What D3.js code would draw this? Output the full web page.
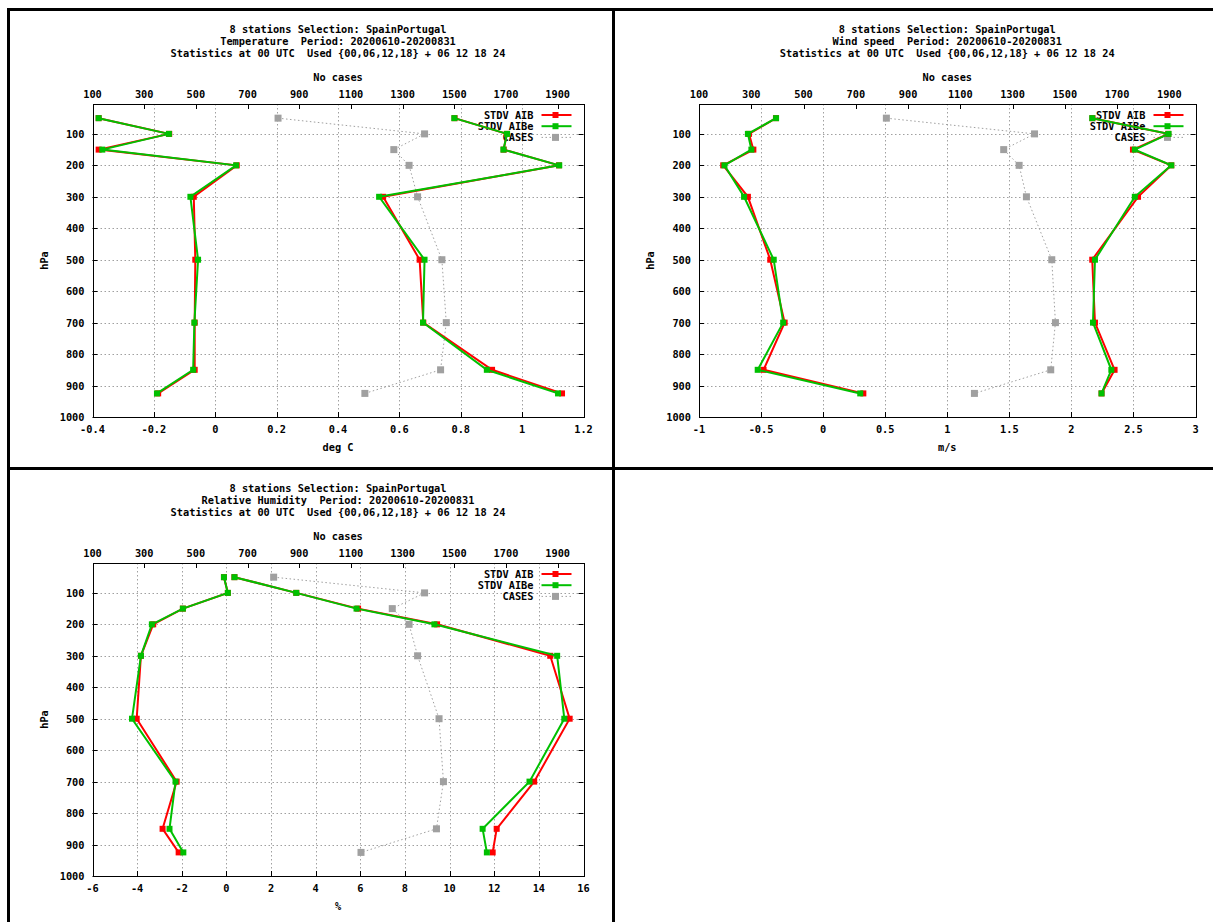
<!DOCTYPE html>
<html>
<head>
<meta charset="utf-8">
<script src="https://cdn.jsdelivr.net/npm/d3@7"></script>
<style>
  body { margin: 0; background: #fff; }
  svg text { font-family: 'DejaVu Sans Mono', monospace; font-weight: bold; font-size: 10.3px; fill: #000; }
</style>
</head>
<body>
<svg id="chart" width="1213" height="922"></svg>
<script>
// pressure levels (hPa)
const levels = [50, 100, 150, 200, 300, 500, 700, 850, 925];
const pressureTicks = [100, 200, 300, 400, 500, 600, 700, 800, 900, 1000];
const casesTicks = [100, 300, 500, 700, 900, 1100, 1300, 1500, 1700, 1900];

// Temperature
const tempTicks = [-0.4, -0.2, 0, 0.2, 0.4, 0.6, 0.8, 1, 1.2];
const tempBiasAIB = [-0.38, -0.15, -0.38, 0.07, -0.07, -0.065, -0.067, -0.067, -0.186];
const tempBiasAIBe = [-0.38, -0.151, -0.368, 0.068, -0.081, -0.056, -0.068, -0.072, -0.19];
const tempStdvAIB = [0.78, 0.95, 0.94, 1.12, 0.547, 0.666, 0.678, 0.902, 1.13];
const tempStdvAIBe = [0.779, 0.951, 0.939, 1.121, 0.534, 0.682, 0.677, 0.885, 1.117];
const tempCases = [818, 1385, 1266, 1325, 1358, 1452, 1469, 1447, 1154];

// Wind speed
const windTicks = [-1, -0.5, 0, 0.5, 1, 1.5, 2, 2.5, 3];
const windBiasAIB = [-0.38, -0.597, -0.562, -0.805, -0.606, -0.426, -0.31, -0.48, 0.324];
const windBiasAIBe = [-0.379, -0.606, -0.578, -0.795, -0.637, -0.398, -0.322, -0.527, 0.299];
const windStdvAIB = [2.17, 2.78, 2.496, 2.805, 2.537, 2.168, 2.19, 2.348, 2.243];
const windStdvAIBe = [2.168, 2.783, 2.511, 2.805, 2.511, 2.19, 2.174, 2.322, 2.243];
const windCases = [817, 1384, 1266, 1325, 1353, 1450, 1464, 1446, 1154];

// Relative humidity
const rhTicks = [-6, -4, -2, 0, 2, 4, 6, 8, 10, 12, 14, 16];
const rhBiasAIB = [-0.11, 0.065, -1.95, -3.28, -3.83, -4.02, -2.23, -2.86, -2.14];
const rhBiasAIBe = [-0.11, 0.065, -1.95, -3.34, -3.83, -4.23, -2.28, -2.55, -1.93];
const rhStdvAIB = [0.36, 3.13, 5.9, 9.44, 14.51, 15.38, 13.79, 12.11, 11.93];
const rhStdvAIBe = [0.36, 3.13, 5.83, 9.32, 14.82, 15.14, 13.58, 11.48, 11.67];
const rhCases = [801, 1385, 1260, 1325, 1358, 1441, 1458, 1431, 1139];

const titleLine1 = '8 stations Selection: SpainPortugal';
const titleLine3 = 'Statistics at 00 UTC  Used {00,06,12,18} + 06 12 18 24';
const period = 'Period: 20200610-20200831';

const RED = '#ff0000';
const GREEN = '#00c000';
const GRAY = '#a0a0a0';

const svg = d3.select('#chart');

// frame
const frame = svg.append('g').attr('fill', '#000');
frame.append('rect').attr('x', 7).attr('y', 8).attr('width', 1206).attr('height', 3);
frame.append('rect').attr('x', 7).attr('y', 8).attr('width', 3).attr('height', 914);
frame.append('rect').attr('x', 612).attr('y', 8).attr('width', 3).attr('height', 914);
frame.append('rect').attr('x', 7).attr('y', 467).attr('width', 1206).attr('height', 3);

function drawPanel(p) {
  const g = svg.append('g');
  const x = d3.scaleLinear().domain(p.xDomain).range([p.l, p.r]);
  const x2 = d3.scaleLinear().domain([100, 2000]).range([p.l, p.r]);
  const y = d3.scaleLinear().domain([5, 1000]).range([p.t, p.b]);
  const cx = (p.l + p.r) / 2;

  // titles
  [titleLine1, p.varName + '  ' + period, titleLine3].forEach((s, i) => {
    g.append('text').attr('x', cx).attr('y', p.t - 75 + i * 12)
      .attr('text-anchor', 'middle').attr('dominant-baseline', 'central')
      .attr('xml:space', 'preserve').style('white-space', 'pre').text(s);
  });
  g.append('text').attr('x', cx).attr('y', p.t - 27)
    .attr('text-anchor', 'middle').attr('dominant-baseline', 'central').text('No cases');
  g.append('text').attr('x', cx).attr('y', p.b + 30)
    .attr('text-anchor', 'middle').attr('dominant-baseline', 'central').text(p.xLabel);
  g.append('text')
    .attr('transform', 'translate(' + (p.l - 49) + ',' + ((p.t + p.b) / 2) + ')rotate(-90)')
    .attr('text-anchor', 'middle').attr('dominant-baseline', 'central').text('hPa');

  // grid
  const grid = g.append('g').attr('stroke', GRAY).attr('stroke-width', 1)
    .attr('stroke-dasharray', '1.5,2.5');
  grid.selectAll('.gx').data(p.xTicks.slice(1, -1)).enter().append('line')
    .attr('x1', d => Math.round(x(d)) + 0.5).attr('x2', d => Math.round(x(d)) + 0.5)
    .attr('y1', p.t).attr('y2', p.b);
  grid.selectAll('.gy').data(pressureTicks.slice(0, -1)).enter().append('line')
    .attr('x1', p.l).attr('x2', p.r)
    .attr('y1', d => Math.round(y(d)) + 0.5).attr('y2', d => Math.round(y(d)) + 0.5);

  // ticks
  const ticks = g.append('g').attr('stroke', '#000').attr('stroke-width', 1);
  p.xTicks.forEach(d => {
    const xx = Math.round(x(d)) + 0.5;
    ticks.append('line').attr('x1', xx).attr('x2', xx).attr('y1', p.b).attr('y2', p.b - 5);
    g.append('text').attr('x', x(d)).attr('y', p.b + 12)
      .attr('text-anchor', 'middle').attr('dominant-baseline', 'central').text(p.fmt(d));
  });
  casesTicks.forEach(d => {
    const xx = Math.round(x2(d)) + 0.5;
    ticks.append('line').attr('x1', xx).attr('x2', xx).attr('y1', p.t).attr('y2', p.t + 5);
    g.append('text').attr('x', x2(d)).attr('y', p.t - 10)
      .attr('text-anchor', 'middle').attr('dominant-baseline', 'central').text(d);
  });
  pressureTicks.forEach(d => {
    const yy = Math.round(y(d)) + 0.5;
    ticks.append('line').attr('x1', p.l).attr('x2', p.l + 5).attr('y1', yy).attr('y2', yy);
    ticks.append('line').attr('x1', p.r).attr('x2', p.r - 5).attr('y1', yy).attr('y2', yy);
    g.append('text').attr('x', p.l - 8).attr('y', y(d))
      .attr('text-anchor', 'end').attr('dominant-baseline', 'central').text(d);
  });

  // border
  g.append('rect')
    .attr('x', Math.round(p.l) + 0.5).attr('y', Math.round(p.t) + 0.5)
    .attr('width', Math.round(p.r) - Math.round(p.l)).attr('height', Math.round(p.b) - Math.round(p.t))
    .attr('fill', 'none').attr('stroke', '#000').attr('stroke-width', 1);

  // legend
  const keys = [
    { name: 'STDV AIB', color: RED, dash: null, size: 6 },
    { name: 'STDV AIBe', color: GREEN, dash: null, size: 6 },
    { name: 'CASES', color: GRAY, dash: '1.5,2.5', size: 7 }
  ];
  keys.forEach((k, i) => {
    const ky = p.t + 11 + i * 11.2;
    g.append('text').attr('x', p.r - 50).attr('y', ky)
      .attr('text-anchor', 'end').attr('dominant-baseline', 'central').text(k.name);
    g.append('line').attr('x1', p.r - 42).attr('x2', p.r - 12).attr('y1', ky).attr('y2', ky)
      .attr('stroke', k.color).attr('stroke-width', k.dash ? 1 : 2)
      .attr('stroke-dasharray', k.dash);
    g.append('rect').attr('x', p.r - 28 - k.size / 2).attr('y', ky - k.size / 2)
      .attr('width', k.size).attr('height', k.size).attr('fill', k.color);
  });

  // cases (top axis)
  const casesLine = d3.line().x(d => x2(d[1])).y(d => y(d[0]));
  const cData = levels.map((l, i) => [l, p.cases[i]]);
  g.append('path').datum(cData).attr('d', casesLine)
    .attr('fill', 'none').attr('stroke', GRAY).attr('stroke-width', 1)
    .attr('stroke-dasharray', '1.5,2.5');
  g.selectAll('.cs').data(cData).enter().append('rect')
    .attr('x', d => x2(d[1]) - 3.5).attr('y', d => y(d[0]) - 3.5)
    .attr('width', 7).attr('height', 7).attr('fill', GRAY);

  // bias and stdv profiles
  const line = d3.line().x(d => x(d[1])).y(d => y(d[0]));
  const series = [
    { vals: p.biasAIB, color: RED },
    { vals: p.stdvAIB, color: RED },
    { vals: p.biasAIBe, color: GREEN },
    { vals: p.stdvAIBe, color: GREEN }
  ];
  series.forEach(s => {
    const data = levels.map((l, i) => [l, s.vals[i]]);
    g.append('path').datum(data).attr('d', line)
      .attr('fill', 'none').attr('stroke', s.color).attr('stroke-width', 2)
      .attr('stroke-linejoin', 'miter');
    g.selectAll('.pt').data(data).enter().append('rect')
      .attr('x', d => x(d[1]) - 3).attr('y', d => y(d[0]) - 3)
      .attr('width', 6).attr('height', 6).attr('fill', s.color);
  });
}

const fmtNum = d => String(d);

drawPanel({
  varName: 'Temperature', xLabel: 'deg C',
  xDomain: [-0.4, 1.2], xTicks: tempTicks, fmt: fmtNum,
  l: 92.5, r: 583.5, t: 104, b: 417,
  biasAIB: tempBiasAIB, biasAIBe: tempBiasAIBe,
  stdvAIB: tempStdvAIB, stdvAIBe: tempStdvAIBe, cases: tempCases
});

drawPanel({
  varName: 'Wind speed', xLabel: 'm/s',
  xDomain: [-1, 3], xTicks: windTicks, fmt: fmtNum,
  l: 699, r: 1195.5, t: 104, b: 417,
  biasAIB: windBiasAIB, biasAIBe: windBiasAIBe,
  stdvAIB: windStdvAIB, stdvAIBe: windStdvAIBe, cases: windCases
});

drawPanel({
  varName: 'Relative Humidity', xLabel: '%',
  xDomain: [-6, 16], xTicks: rhTicks, fmt: fmtNum,
  l: 92.5, r: 583.5, t: 563, b: 876,
  biasAIB: rhBiasAIB, biasAIBe: rhBiasAIBe,
  stdvAIB: rhStdvAIB, stdvAIBe: rhStdvAIBe, cases: rhCases
});
</script>
</body>
</html>
